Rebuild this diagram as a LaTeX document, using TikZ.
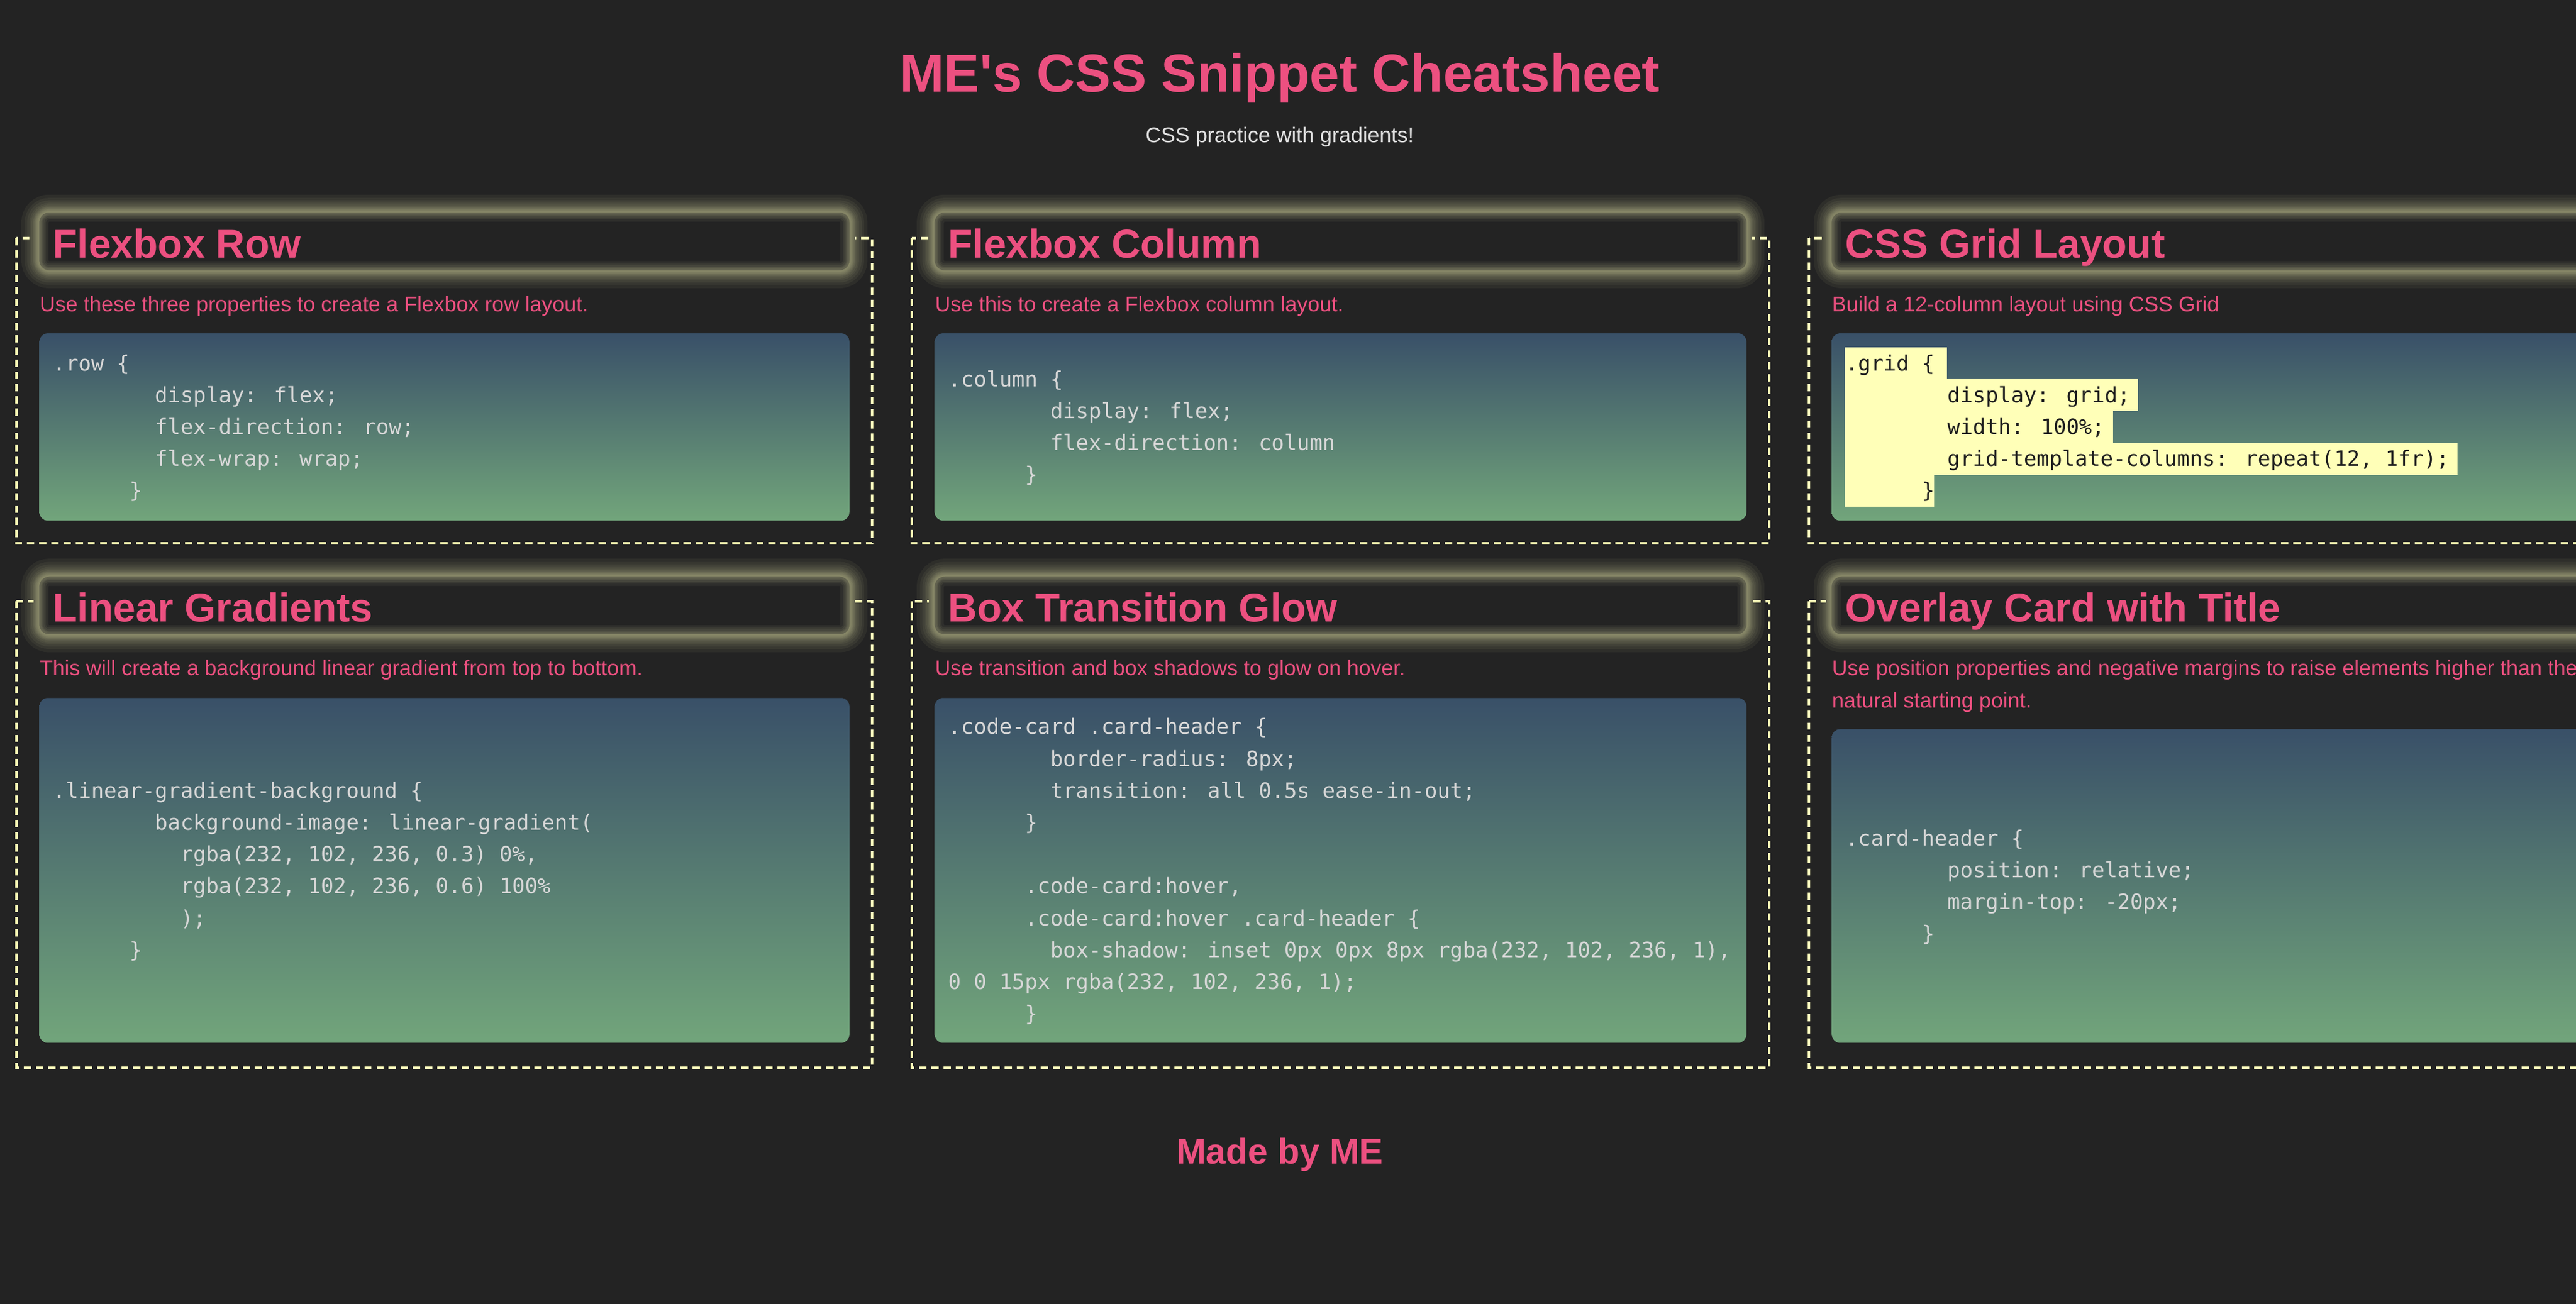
\documentclass[tikz,border=0pt]{standalone}
\usepackage{fontspec}
\setmainfont{Liberation Sans}
\newfontfamily\codefont{DejaVu Sans Mono}
\definecolor{bgc}{RGB}{35,35,35}
\definecolor{pinkc}{RGB}{236,80,128}
\definecolor{dashc}{RGB}{255,255,184}
\definecolor{glowc}{RGB}{255,255,190}
\definecolor{codetop}{RGB}{57,80,104}
\definecolor{codebot}{RGB}{114,165,123}
\definecolor{codetxt}{RGB}{215,215,215}
\definecolor{subc}{RGB}{225,225,225}
\definecolor{hilite}{RGB}{255,255,184}
\definecolor{hltxt}{RGB}{30,30,30}
\newlength\cw
\setlength\cw{7.766pt}
\newcommand\indt[1]{\hspace*{#1\cw}}
\newcommand\cdfont{\codefont\fontsize{12.9}{19.4}\selectfont}
\newcommand\hdfont{\fontsize{24.5}{29}\selectfont\bfseries}
\newcommand\dsfont{\fontsize{13}{19.5}\selectfont}
\newcommand\codelines[1]{\begin{tabular}[t]{@{}l@{}}#1\end{tabular}}
\newcommand\glowhdr[4]{%
  \fill[bgc, rounded corners=8pt] (#1-3.5,#2-3.5) rectangle (#3+3.5,#4+3.5);
  \foreach \w in {2,3,4,5,6,7,8,10,12,15,18,22}{\draw[glowc, opacity=0.05, line width=\w pt, rounded corners=6pt] (#1,#2) rectangle (#3,#4);}
  \fill[bgc, rounded corners=6pt] (#1,#2) rectangle (#3,#4);
  \begin{scope}
    \clip[rounded corners=6pt] (#1,#2) rectangle (#3,#4);
    \foreach \w in {2,3,4,6,8,11}{\draw[glowc, opacity=0.06, line width=\w pt, rounded corners=6pt] (#1,#2) rectangle (#3,#4);}
  \end{scope}}
\tikzset{
  cardborder/.style={draw=dashc, line width=1.5pt, dash pattern=on 4.4pt off 3pt},
  codebox/.style={top color=codetop, bottom color=codebot, rounded corners=5pt},
  hdtext/.style={anchor=base west, inner sep=0pt, font=\hdfont, text=pinkc},
  dstext/.style={anchor=base west, inner sep=0pt, font=\dsfont, text=pinkc},
  cdtext/.style={anchor=base west, inner sep=0pt, font=\cdfont, text=codetxt},
}
\begin{document}
\begin{tikzpicture}[x=1pt, y=-1pt]
\useasboundingbox (0,0) rectangle (1568,794);
\clip (0,0) rectangle (1568,794);
\fill[bgc] (0,0) rectangle (1568,794);

% page title
\node[anchor=base, inner sep=0pt, font=\fontsize{32.5}{38}\selectfont\bfseries, text=pinkc] (title) at (779,55.8) {ME\textquotesingle s CSS Snippet Cheatsheet};
\node[anchor=base, inner sep=0pt, font=\fontsize{13}{16}\selectfont, text=subc] (subtitle) at (779,86.7) {CSS practice with gradients!};

% card borders
\draw[cardborder] (10,145) rectangle (531,331);
\draw[cardborder] (555,145) rectangle (1077,331);
\draw[cardborder] (1101,145) rectangle (1622,331);
\draw[cardborder] (10,366) rectangle (531,650);
\draw[cardborder] (555,366) rectangle (1077,650);
\draw[cardborder] (1101,366) rectangle (1622,650);

% glowing headers
\glowhdr{24}{129.5}{517}{164.5}
\glowhdr{569}{129.5}{1063}{164.5}
\glowhdr{1115}{129.5}{1608}{164.5}
\glowhdr{24}{351.2}{517}{386.2}
\glowhdr{569}{351.2}{1063}{386.2}
\glowhdr{1115}{351.2}{1608}{386.2}

\node[hdtext] (h1) at (32,157) {Flexbox Row};
\node[hdtext] (h2) at (577,157) {Flexbox Column};
\node[hdtext] (h3) at (1123,157) {CSS Grid Layout};
\node[hdtext] (h4) at (32,378.7) {Linear Gradients};
\node[hdtext] (h5) at (577,378.7) {Box Transition Glow};
\node[hdtext] (h6) at (1123,378.7) {Overlay Card with Title};

% descriptions
\node[dstext] (d1) at (24,189.8) {Use these three properties to create a Flexbox row layout.};
\node[dstext] (d2) at (569,189.8) {Use this to create a Flexbox column layout.};
\node[dstext] (d3) at (1115,189.8) {Build a 12-column layout using CSS Grid};
\node[dstext] (d4) at (24,411.5) {This will create a background linear gradient from top to bottom.};
\node[dstext] (d5) at (569,411.5) {Use transition and box shadows to glow on hover.};
\node[dstext] (d6) at (1115,411.5) {Use position properties and negative margins to raise elements higher than the};
\node[dstext] (d6b) at (1115,431) {natural starting point.};

% code boxes
\shade[codebox] (24,203) rectangle (517,317);
\shade[codebox] (569,203) rectangle (1063,317);
\shade[codebox] (1115,203) rectangle (1608,317);
\shade[codebox] (24,425) rectangle (517,635);
\shade[codebox] (569,425) rectangle (1063,635);
\shade[codebox] (1115,444) rectangle (1608,635);

% grid highlight
\fill[hilite] (1123,211.5) rectangle (1185.1,230.9);
\fill[hilite] (1123,230.9) rectangle (1301.6,250.3);
\fill[hilite] (1123,250.3) rectangle (1286.1,269.7);
\fill[hilite] (1123,269.7) rectangle (1495.8,289.1);
\fill[hilite] (1123,289.1) rectangle (1177.4,308.5);

% code
\node[cdtext] (c1) at (32,225.7) {\codelines{%
.row \{\\
\indt{8}display: flex;\\
\indt{8}flex-direction: row;\\
\indt{8}flex-wrap: wrap;\\
\indt{6}\}}};
\node[cdtext] (c2) at (577,235.4) {\codelines{%
.column \{\\
\indt{8}display: flex;\\
\indt{8}flex-direction: column\\
\indt{6}\}}};
\node[cdtext, text=hltxt] (c3) at (1123,225.7) {\codelines{%
.grid \{\\
\indt{8}display: grid;\\
\indt{8}width: 100\%;\\
\indt{8}grid-template-columns: repeat(12, 1fr);\\
\indt{6}\}}};
\node[cdtext] (c4) at (32,486) {\codelines{%
.linear-gradient-background \{\\
\indt{8}background-image: linear-gradient(\\
\indt{10}rgba(232, 102, 236, 0.3) 0\%,\\
\indt{10}rgba(232, 102, 236, 0.6) 100\%\\
\indt{10});\\
\indt{6}\}}};
\node[cdtext] (c5) at (577,447.2) {\codelines{%
.code-card .card-header \{\\
\indt{8}border-radius: 8px;\\
\indt{8}transition: all 0.5s ease-in-out;\\
\indt{6}\}\\
\\
\indt{6}.code-card:hover,\\
\indt{6}.code-card:hover .card-header \{\\
\indt{8}box-shadow: inset 0px 0px 8px rgba(232, 102, 236, 1),\\
0 0 15px rgba(232, 102, 236, 1);\\
\indt{6}\}}};
\node[cdtext] (c6) at (1123,514.9) {\codelines{%
.card-header \{\\
\indt{8}position: relative;\\
\indt{8}margin-top: -20px;\\
\indt{6}\}}};

% footer
\node[anchor=base, inner sep=0pt, font=\fontsize{21.8}{26}\selectfont\bfseries, text=pinkc] (footer) at (779,708.8) {Made by ME};
\end{tikzpicture}
\end{document}
